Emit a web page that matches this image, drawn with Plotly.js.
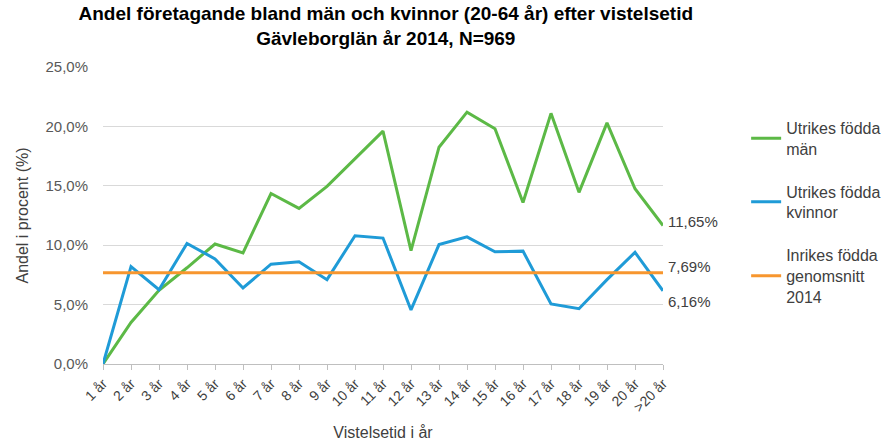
<!DOCTYPE html>
<html>
<head>
<meta charset="utf-8">
<script src="https://cdn.plot.ly/plotly-3.0.1.min.js"></script>
<style>html,body{margin:0;padding:0;background:#fff;}#chart{width:883px;height:447px;}</style>
</head>
<body>
<div id="chart"></div>
<script>
const categories = ["1 år","2 år","3 år","4 år","5 år","6 år","7 år","8 år","9 år","10 år","11 år","12 år","13 år","14 år","15 år","16 år","17 år","18 år","19 år","20 år",">20 år"];
const menValues = [0, 3.5, 6.2, 8.1, 10.1, 9.35, 14.35, 13.1, 14.95, 17.3, 19.6, 9.55, 18.25, 21.2, 19.8, 13.6, 21.1, 14.45, 20.3, 14.75, 11.65];
const womenValues = [0, 8.2, 6.25, 10.15, 8.85, 6.4, 8.4, 8.6, 7.1, 10.8, 10.6, 4.55, 10.05, 10.7, 9.45, 9.5, 5.05, 4.65, 7.1, 9.4, 6.16];
const domesticAverage = 7.69;
const domesticValues = categories.map(() => domesticAverage);
const seriesNames = ["Utrikes födda<br>män", "Utrikes födda<br>kvinnor", "Inrikes födda<br>genomsnitt<br>2014"];
const endLabels = ["11,65%", "7,69%", "6,16%"];
const yTickVals = [0, 5, 10, 15, 20, 25];
const yTickText = ["0,0%", "5,0%", "10,0%", "15,0%", "20,0%", "25,0%"];

const colors = ["#5cb946", "#1f9bd7", "#f7962e"];
const last = categories[categories.length - 1];
const FONT = "Liberation Sans, Arial, sans-serif";

const traces = [
  {x: categories, y: menValues, name: seriesNames[0], legendgroup: "a", type: "scatter", mode: "lines", line: {color: colors[0], width: 3}},
  {x: categories, y: womenValues, name: seriesNames[1], legendgroup: "b", type: "scatter", mode: "lines", line: {color: colors[1], width: 3}},
  {x: categories, y: domesticValues, name: seriesNames[2], legendgroup: "c", type: "scatter", mode: "lines", line: {color: colors[2], width: 3}}
];

const lastVals = [menValues[menValues.length - 1], domesticAverage, womenValues[womenValues.length - 1]];
const yShifts = [4, 6, -11];
const annotations = endLabels.map((t, i) => ({
  x: last, y: lastVals[i], xref: "x", yref: "y", text: t, showarrow: false,
  xanchor: "left", yanchor: "middle", xshift: 3, yshift: yShifts[i],
  font: {family: FONT, size: 15, color: "#404040"}
}));

const layout = {
  width: 883, height: 447,
  margin: {l: 103, r: 220, t: 67, b: 83, autoexpand: false},
  paper_bgcolor: "#ffffff", plot_bgcolor: "#ffffff",
  title: {
    text: "Andel företagande bland män och kvinnor (20-64 år) efter vistelsetid<br>Gävleborglän år 2014, N=969",
    font: {family: FONT, size: 19, color: "#000000", weight: "bold"},
    x: 0.505, xref: "paper", xanchor: "center",
    y: 0.955, yref: "container", yanchor: "top"
  },
  xaxis: {
    type: "category", range: [0, categories.length - 1],
    showgrid: false, showline: true, linecolor: "#bfbfbf", linewidth: 1,
    ticks: "outside", ticklen: 5, tickcolor: "#bfbfbf",
    tickangle: -45,
    tickfont: {family: FONT, size: 14, color: "#404040"},
    title: {text: "Vistelsetid i år", font: {family: FONT, size: 16, color: "#404040"}, standoff: 12},
    zeroline: false, fixedrange: true
  },
  yaxis: {
    range: [0, 25], tickvals: yTickVals, ticktext: yTickText,
    showgrid: true, gridcolor: "#d9d9d9", gridwidth: 1,
    showline: false, zeroline: false, ticks: "",
    ticklabelstandoff: 14,
    tickfont: {family: FONT, size: 15, color: "#595959"},
    title: {text: "Andel i procent (%)", font: {family: FONT, size: 16, color: "#404040"}, standoff: 12},
    fixedrange: true
  },
  legend: {
    x: 0.845, xanchor: "left", xref: "container",
    y: 0.752, yanchor: "top", yref: "container",
    font: {family: FONT, size: 16, color: "#404040"},
    tracegroupgap: 19, bgcolor: "rgba(0,0,0,0)", borderwidth: 0
  },
  showlegend: true,
  annotations: annotations
};

Plotly.newPlot("chart", traces, layout, {displayModeBar: false, staticPlot: true});
</script>
</body>
</html>
